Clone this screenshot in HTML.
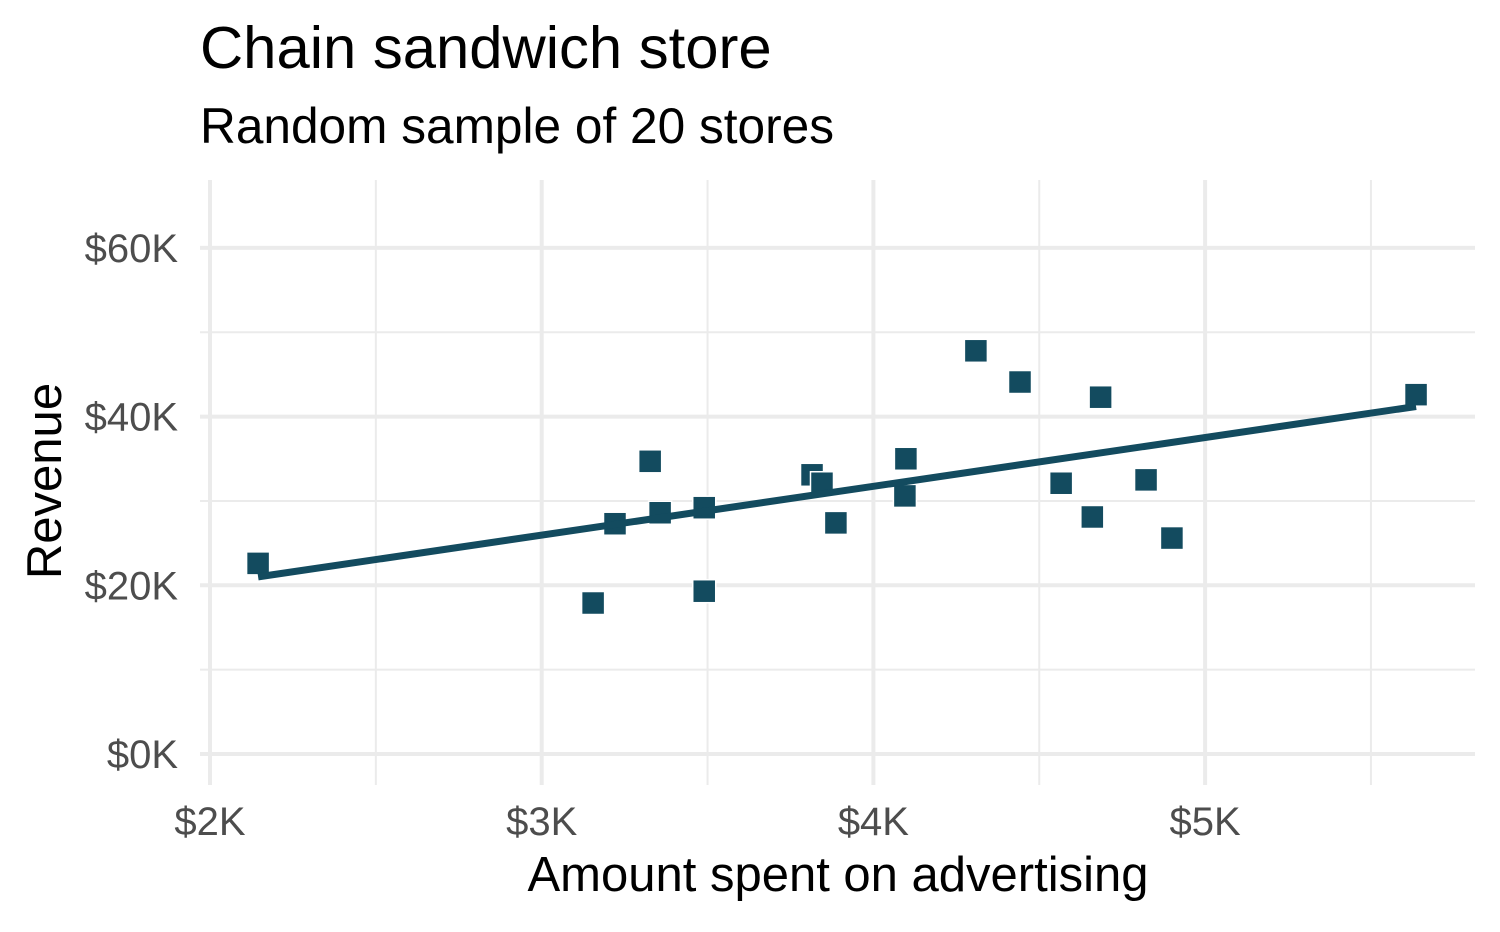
<!DOCTYPE html>
<html><head><meta charset="utf-8"><style>
body{margin:0;background:#fff;}
text{font-family:"Liberation Sans",sans-serif;}
</style></head><body>
<svg width="1500" height="927" viewBox="0 0 1500 927" xmlns="http://www.w3.org/2000/svg">
<text x="200" y="68" font-size="59.8" fill="#000">Chain sandwich store</text>
<text x="200" y="143" font-size="49.6" fill="#000">Random sample of 20 stores</text>
<g id="grid"></g>
<g id="ticks"></g>
<g id="marks"></g>
<text x="838" y="891" font-size="49" text-anchor="middle" fill="#000">Amount spent on advertising</text>
<text transform="translate(61,481) rotate(-90)" font-size="49" text-anchor="middle" fill="#000">Revenue</text>
</svg>
<script>
const advertising=[2145,3155,3221,3327,3357,3490,3490,3815,3845,3887,4098,4095,4309,4442,4566,4660,4685,4822,4900,5636];
const revenue=[22.6,17.9,27.3,34.7,28.6,29.2,19.3,33.1,32.1,27.4,35.0,30.6,47.8,44.1,32.1,28.1,42.3,32.5,25.6,42.6];
const fitX=[2145,5636];
const fitY=[21.0,41.2];
const xTicks=[2000,3000,4000,5000];
const xTickLabels=["$2K","$3K","$4K","$5K"];
const xMinor=[2500,3500,4500,5500];
const yTicks=[0,20,40,60];
const yTickLabels=["$0K","$20K","$40K","$60K"];
const yMinor=[10,30,50];
const NS="http://www.w3.org/2000/svg";
const sx=v=>210+(v-2000)*0.3317;
const sy=v=>754-v*8.435;
function mk(t,a,p){const e=document.createElementNS(NS,t);for(const k in a)e.setAttribute(k,a[k]);p.appendChild(e);return e;}
const G=document.getElementById('grid'),T=document.getElementById('ticks'),M=document.getElementById('marks');
const L=200,R=1475,TOP=180,BOT=785;
yMinor.forEach(v=>{const e=mk('line',{x1:L,x2:R,y1:sy(v),y2:sy(v),stroke:'#ebebeb','stroke-width':2},G);

});
xMinor.forEach(v=>{const e=mk('line',{x1:sx(v),x2:sx(v),y1:TOP,y2:BOT,stroke:'#ebebeb','stroke-width':2},G);

});
yTicks.forEach((v,i)=>{const e=mk('line',{x1:L,x2:R,y1:sy(v),y2:sy(v),stroke:'#ebebeb','stroke-width':4},G);


const t=mk('text',{x:178,y:sy(v)+14,'font-size':40,'text-anchor':'end',fill:'#4d4d4d'},T);t.textContent=yTickLabels[i];

});
xTicks.forEach((v,i)=>{const e=mk('line',{x1:sx(v),x2:sx(v),y1:TOP,y2:BOT,stroke:'#ebebeb','stroke-width':4},G);


const t=mk('text',{x:sx(v),y:835,'font-size':40,'text-anchor':'middle',fill:'#4d4d4d'},T);t.textContent=xTickLabels[i];

});
const s=23;
advertising.forEach((a,i)=>{const e=mk('rect',{x:sx(a)-s/2,y:sy(revenue[i])-s/2,width:s,height:s,fill:'#134b5f',stroke:'#fff','stroke-width':1.5},M);

});
const ln=mk('line',{x1:sx(fitX[0]),y1:sy(fitY[0]),x2:sx(fitX[1]),y2:sy(fitY[1]),stroke:'#134b5f','stroke-width':7},M);


</script>
</body></html>
